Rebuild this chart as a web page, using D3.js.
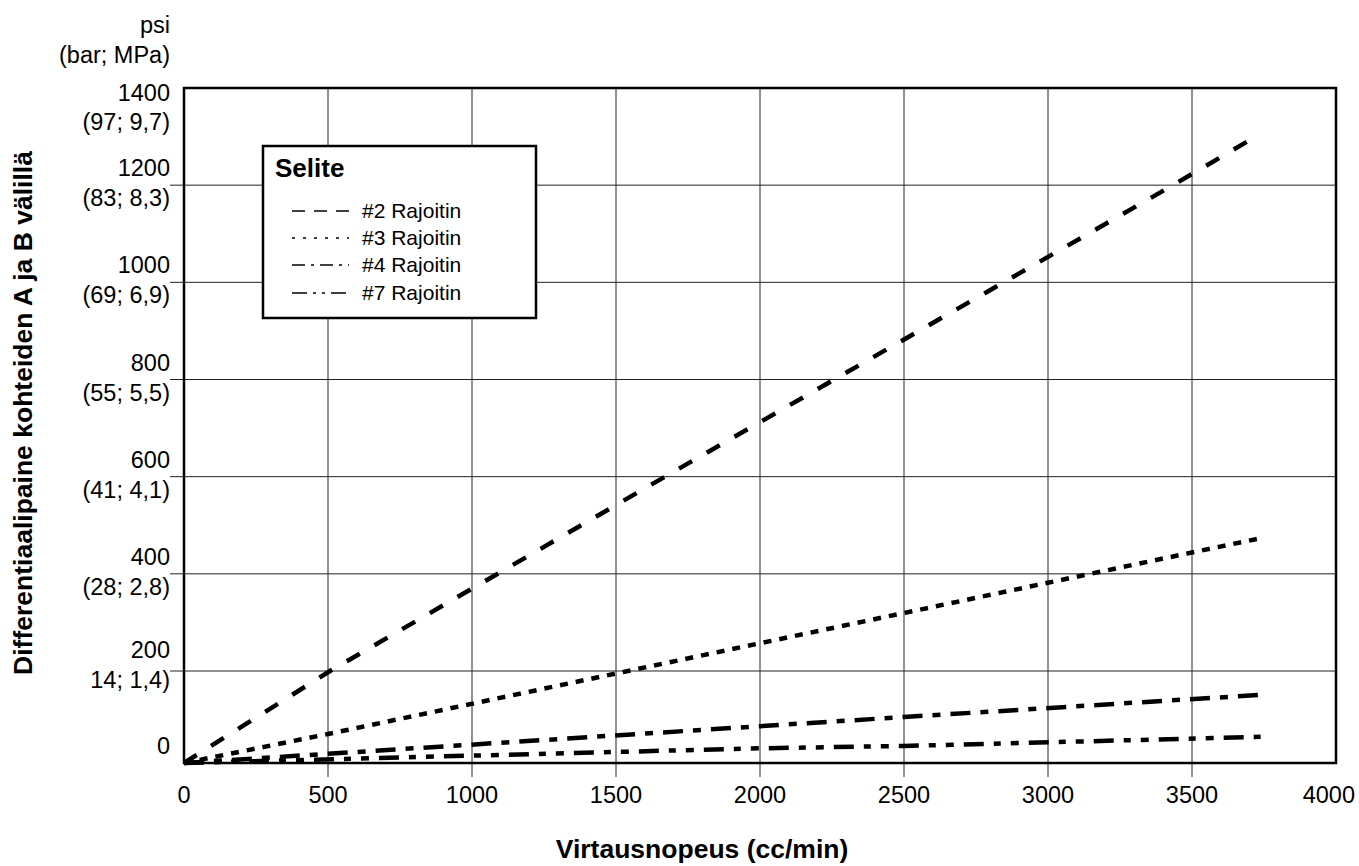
<!DOCTYPE html>
<html><head><meta charset="utf-8">
<script src="https://cdn.jsdelivr.net/npm/d3@7"></script>
<style>body{margin:0;background:#fff;} text{font-family:"Liberation Sans",Arial,sans-serif;fill:#000;}</style>
</head><body>
<svg id="c" width="1359" height="866"></svg>
<script>
const xTicks = [0,500,1000,1500,2000,2500,3000,3500,4000];
const yTicks = [0,200,400,600,800,1000,1200,1400];
const yTickSub = ["", "14; 1,4)", "(28; 2,8)", "(41; 4,1)", "(55; 5,5)", "(69; 6,9)", "(83; 8,3)", "(97; 9,7)"];
const seriesNames = ["#2 Rajoitin","#3 Rajoitin","#4 Rajoitin","#7 Rajoitin"];
const s2Flow = [0,507,1670,3434,3730];
const s2Psi  = [0,200,600,1200,1303];
const s3Flow = [0,500,3500,3735];
const s3Psi  = [0,63,444,473];
const s4Flow = [0,2000,2500,3735];
const s4Psi  = [0,80,100,148];
const s7Flow = [0,2000,2500,3750];
const s7Psi  = [0,32,37,57];
const xTitle = "Virtausnopeus (cc/min)";
const yTitle = "Differentiaalipaine kohteiden A ja B välillä";
const unitLines = ["psi","(bar; MPa)"];
const legendTitle = "Selite";

const svg = d3.select("#c");
const x = d3.scaleLinear().domain([0,4000]).range([184,1336]);
const y = d3.scaleLinear().domain([0,200,1400]).range([763,671,88]);
const TF = "23.5px";

// grid
const g = svg.append("g");
g.selectAll(".vg").data(xTicks.filter(t=>t>0&&t<4000)).enter().append("line")
  .attr("x1",d=>x(d)).attr("x2",d=>x(d)).attr("y1",y(1400)).attr("y2",y(0)+14)
  .attr("stroke","#222").attr("stroke-width",1);
g.selectAll(".hg").data(yTicks.filter(t=>t>0&&t<1400)).enter().append("line")
  .attr("y1",d=>y(d)).attr("y2",d=>y(d)).attr("x1",x(0)-14).attr("x2",x(4000))
  .attr("stroke","#222").attr("stroke-width",1);

// x tick labels
svg.selectAll(".xl").data(xTicks).enter().append("text")
  .attr("x",d=> d===4000 ? 1355 : x(d)).attr("y",y(0)+40)
  .attr("text-anchor",d=> d===4000 ? "end" : "middle")
  .style("font-size",TF).text(d=>d);

// y tick labels
const yl = svg.selectAll(".yl").data(yTicks).enter().append("g");
yl.append("text").attr("x",170).attr("text-anchor","end").style("font-size",TF)
  .attr("y",(d,i)=> d===1400 ? y(d)+13 : (d===200 ? y(d)-13 : y(d)-9))
  .text(d=>d);
yl.append("text").attr("x",170).attr("text-anchor","end").style("font-size",TF)
  .attr("y",(d,i)=> d===1400 ? y(d)+42 : (d===200 ? y(d)+17 : y(d)+21))
  .text((d,i)=>yTickSub[i]);

// units
svg.append("text").attr("x",170).attr("y",33).attr("text-anchor","end").style("font-size",TF).text(unitLines[0]);
svg.append("text").attr("x",170).attr("y",63).attr("text-anchor","end").style("font-size",TF).text(unitLines[1]);

// titles
svg.append("text").attr("x",702).attr("y",858).attr("text-anchor","middle")
  .style("font-size","26.5px").style("font-weight","bold").text(xTitle);
svg.append("text").attr("transform","translate(32,413) rotate(-90)").attr("text-anchor","middle")
  .style("font-size","26.5px").style("font-weight","bold").text(yTitle);

// series
const dashes = ["15,17","8,8","20,10,8,10","20,10,7,10,8,10"];
const legendDashes = ["13,9","3,8","13,6,3,6","15,6,3,6,3,6"];
const series = [
  s2Flow.map((v,i)=>[v,s2Psi[i]]),
  s3Flow.map((v,i)=>[v,s3Psi[i]]),
  s4Flow.map((v,i)=>[v,s4Psi[i]]),
  s7Flow.map((v,i)=>[v,s7Psi[i]])
];
const line = d3.line().x(d=>x(d[0])).y(d=>y(d[1]));
svg.selectAll(".ser").data(series).enter().append("path")
  .attr("d",line).attr("fill","none").attr("stroke","#000")
  .attr("stroke-width",4.5).attr("stroke-dasharray",(d,i)=>dashes[i]);

// frame
svg.append("rect").attr("x",x(0)).attr("y",y(1400)).attr("width",x(4000)-x(0)).attr("height",y(0)-y(1400))
  .attr("fill","none").attr("stroke","#000").attr("stroke-width",2.5);

// legend
const lg = svg.append("g");
lg.append("rect").attr("x",263).attr("y",146).attr("width",273).attr("height",172)
  .attr("fill","#fff").attr("stroke","#000").attr("stroke-width",2.5);
lg.append("text").attr("x",275).attr("y",177).style("font-size","26px").style("font-weight","bold").text(legendTitle);
const rowsY = [211,238,265,293];
const items = lg.selectAll(".li").data(seriesNames).enter().append("g");
items.append("line").attr("x1",292).attr("x2",349).attr("y1",(d,i)=>rowsY[i]).attr("y2",(d,i)=>rowsY[i])
  .attr("stroke","#000").attr("stroke-width",1.5).attr("stroke-dasharray",(d,i)=>legendDashes[i]);
items.append("text").attr("x",362).attr("y",(d,i)=>rowsY[i]+7).style("font-size","21px").text(d=>d);
</script>
</body></html>
